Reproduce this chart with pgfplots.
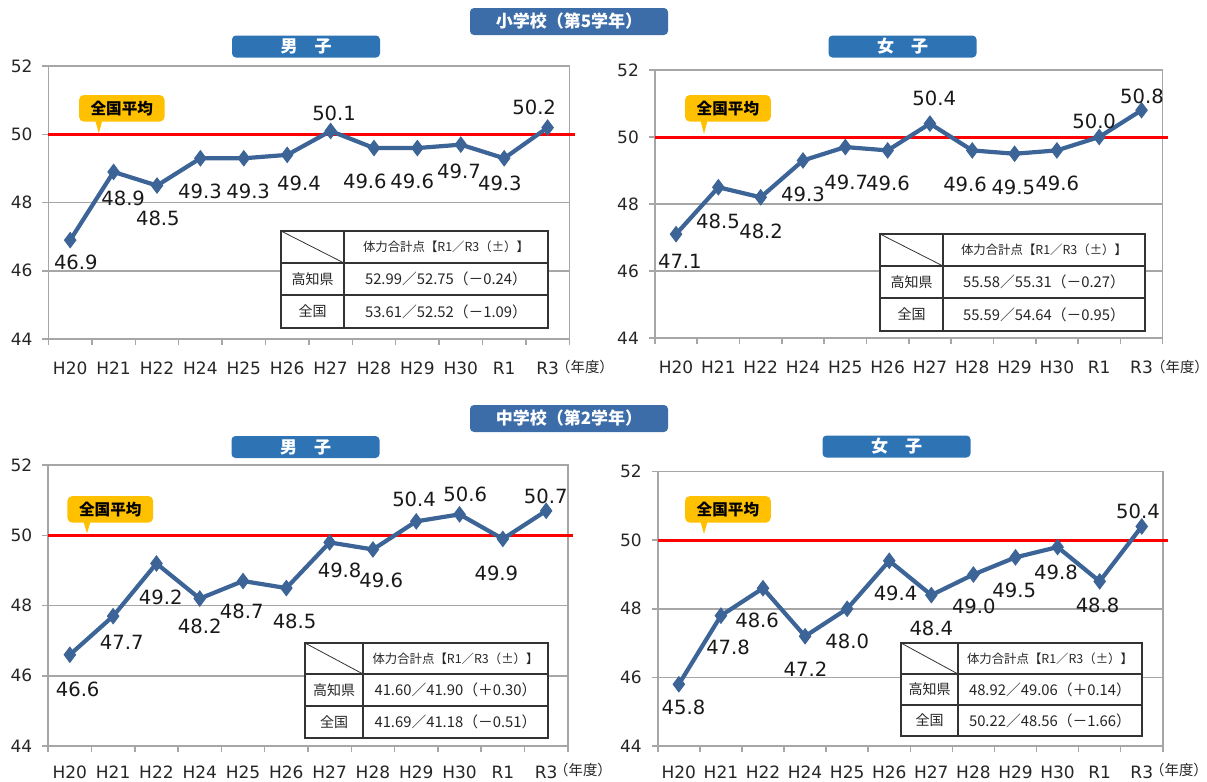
\documentclass[border=0pt]{standalone}
\usepackage{fontspec}
\setmainfont{DejaVu Sans}
\newfontfamily\cjk{Noto Sans CJK JP}
\usepackage{pgfplots}
\pgfplotsset{compat=1.18}
\usepackage{pgfplotstable}

\definecolor{lineblue}{HTML}{3C6497}
\definecolor{boxblue}{HTML}{2E74B5}
\definecolor{schoolblue}{HTML}{3D6DA9}
\definecolor{framegray}{HTML}{A6A6A6}
\definecolor{callout}{HTML}{FFC000}

\pgfplotstableread{
x y lx ly
0 46.9 0.13 46.26
1 48.9 1.22 48.13
2 48.5 2.02 47.55
3 49.3 2.99 48.34
4 49.3 4.10 48.34
5 49.4 5.27 48.55
6 50.1 6.08 50.63
7 49.6 6.79 48.63
8 49.6 7.88 48.63
9 49.7 8.96 48.93
10 49.3 9.90 48.57
11 50.2 10.69 50.80
}\dataA
\pgfplotstableread{
x y lx ly
0 47.1 0.09 46.30
1 48.5 0.99 47.49
2 48.2 2.01 47.19
3 49.3 3.00 48.30
4 49.7 4.02 48.66
5 49.6 5.01 48.63
6 50.4 6.10 51.16
7 49.6 6.83 48.60
8 49.5 7.97 48.51
9 49.6 9.01 48.63
10 50.0 9.88 50.48
11 50.8 11.01 51.22
}\dataB
\pgfplotstableread{
x y lx ly
0 46.6 0.18 45.62
1 47.7 1.20 46.94
2 49.2 2.10 48.23
3 48.2 3.00 47.42
4 48.7 3.97 47.85
5 48.5 5.19 47.54
6 49.8 6.23 49.01
7 49.6 7.19 48.71
8 50.4 7.95 51.03
9 50.6 9.13 51.18
10 49.9 9.85 48.92
11 50.7 10.99 51.10
}\dataC
\pgfplotstableread{
x y lx ly
0 45.8 0.11 45.13
1 47.8 1.17 46.88
2 48.6 1.86 47.65
3 47.2 3.01 46.24
4 48.0 4.00 47.04
5 49.4 5.15 48.45
6 48.4 6.00 47.43
7 49.0 7.01 48.06
8 49.5 7.97 48.55
9 49.8 8.96 49.05
10 48.8 9.95 48.11
11 50.4 10.91 50.83
}\dataD

\pgfplotsset{
  panel/.style={
    scale only axis, anchor=south west, clip=false,
    xmin=-0.5, xmax=11.5, ymin=44, ymax=52,
    ytick={44,46,48,50,52},
    xtick={-0.5,0.5,...,11.5},
    x tick label as interval,
    xticklabels={H20,H21,H22,H24,H25,H26,H27,H28,H29,H30,R1,R3,{}},
    tick style={draw=framegray, line width=0.75pt},
    major tick length=3pt,
    tick align=outside,
    xtick pos=left, ytick pos=left,
    ymajorgrids,
    grid style={draw=framegray, line width=0.75pt},
    axis line style={draw=framegray, line width=0.75pt},
    tick label style={font=\fontsize{8.5}{10}\selectfont, text=black!85},
    /pgf/number format/assume math mode=true,
    yticklabel shift=1.5pt,
    xticklabel shift=4.8pt,
  }
}

\newcommand\panel[6]{%
\begin{axis}[panel, at={(#1pt,#2pt)}, width=#3pt, height=#4pt, #6]
\draw[red, line width=1.5pt] (axis cs:-0.5,50) -- (axis cs:11.62,50);
\addplot[lineblue, line width=2.1pt, mark=diamond*, mark size=3.8pt,
  mark options={fill=lineblue, draw=lineblue, line width=0.5pt}] table[x=x,y=y]{#5};
\addplot[draw=none, mark=none, nodes near coords, point meta=explicit symbolic,
  every node near coord/.append style={anchor=center, inner sep=0pt,
  font=\fontsize{9.8}{11}\selectfont, text=black!90}] table[x=lx,y=ly,meta=y]{#5};
\end{axis}}

% x1 y1 x2 y2 col r1 r2 text2 text3
\newcommand\datatable[9]{%
\filldraw[fill=white, draw=black!80, line width=0.6pt] (#1,#2) rectangle (#3,#4);
\draw[black!80, line width=0.6pt] (#1,#6) -- (#3,#6) (#1,#7) -- (#3,#7) (#5,#2) -- (#5,#4);
\draw[black!80, line width=0.4pt] (#1,#2) -- (#5,#6);
\node[font=\cjk\fontsize{6.2}{7}\selectfont, text=black!85] at ({(#5+#3)/2},{(#2+#6)/2}) {体力合計点【R1／R3（±）】};
\node[font=\cjk\fontsize{7}{8}\selectfont, text=black!85] at ({(#1+#5)/2},{(#6+#7)/2}) {高知県};
\node[font=\cjk\fontsize{7}{8}\selectfont, text=black!85] at ({(#1+#5)/2},{(#7+#4)/2}) {全国};
\node[font=\cjk\fontsize{7.4}{8}\selectfont, text=black!85] at ({(#5+#3)/2},{(#6+#7)/2}) {#8};
\node[font=\cjk\fontsize{7.4}{8}\selectfont, text=black!85] at ({(#5+#3)/2},{(#7+#4)/2}) {#9};
}

% x1 y1 x2 y2 tipx tipy
\newcommand\callout[6]{%
\fill[callout, rounded corners=2.5pt] (#1,#2) rectangle (#3,#4);
\fill[callout] ({#5-3.5},{#4-1}) -- (#5,#6) -- ({#5+3.5},{#4-1}) -- cycle;
\node[font=\cjk\bfseries\fontsize{7.8}{9}\selectfont, text=black] at ({(#1+#3)/2},{(#2+#4)/2}) {全国平均};
}

\newcommand\titlebox[6]{% cx cy w h color text
\node[fill=#5, rounded corners=2pt, text=white, inner sep=0pt,
  minimum width=#3*0.5pt, minimum height=#4*0.5pt,
  font=\cjk\bfseries\fontsize{8.5}{10}\selectfont] at (#1,#2) {#6};
}

\begin{document}
\begin{tikzpicture}[x=0.5pt,y=-0.5pt]
\path[use as bounding box] (0,0) rectangle (1207,782);

\panel{24.25}{-169.5}{260.4}{136.4}{\dataA}{}
\panel{327.45}{-169}{253.9}{134}{\dataB}{}
\panel{24.1}{-373}{259.8}{140.4}{\dataC}{xticklabel shift=3.6pt}
\panel{328.9}{-373}{252.5}{137.2}{\dataD}{xticklabel shift=3.6pt}

\datatable{281}{231}{548}{328}{344}{263}{295}{52.99／52.75（－0.24）}{53.61／52.52（－1.09）}
\datatable{880}{234}{1145}{331}{943}{266}{298}{55.58／55.31（－0.27）}{55.59／54.64（－0.95）}
\datatable{305}{643}{548}{738}{363}{674}{706}{41.60／41.90（＋0.30）}{41.69／41.18（－0.51）}
\datatable{901}{643}{1142}{736}{958}{674}{705}{48.92／49.06（＋0.14）}{50.22／48.56（－1.66）}

\callout{79}{95}{164.6}{121.7}{98.8}{133.3}
\callout{685}{95}{770.8}{121.7}{704}{134}
\callout{67.4}{496}{153.2}{522.7}{87}{533.3}
\callout{685}{496}{770.8}{522.7}{704}{534}

\titlebox{569}{21.5}{198}{27}{schoolblue}{小学校（第5学年）}
\titlebox{306}{46.5}{148}{22}{boxblue}{男　子}
\titlebox{902.5}{46.5}{148}{22}{boxblue}{女　子}
\titlebox{569}{418.5}{198}{27}{schoolblue}{中学校（第2学年）}
\titlebox{305.5}{447}{148}{22}{boxblue}{男　子}
\titlebox{896.5}{446.5}{148}{22}{boxblue}{女　子}

\node[font=\cjk\fontsize{7.2}{8}\selectfont, text=black!85] at (585,367) {（年度）};
\node[font=\cjk\fontsize{7.2}{8}\selectfont, text=black!85] at (1180,367) {（年度）};
\node[font=\cjk\fontsize{7.2}{8}\selectfont, text=black!85] at (583,770) {（年度）};
\node[font=\cjk\fontsize{7.2}{8}\selectfont, text=black!85] at (1179,770) {（年度）};
\end{tikzpicture}
\end{document}
